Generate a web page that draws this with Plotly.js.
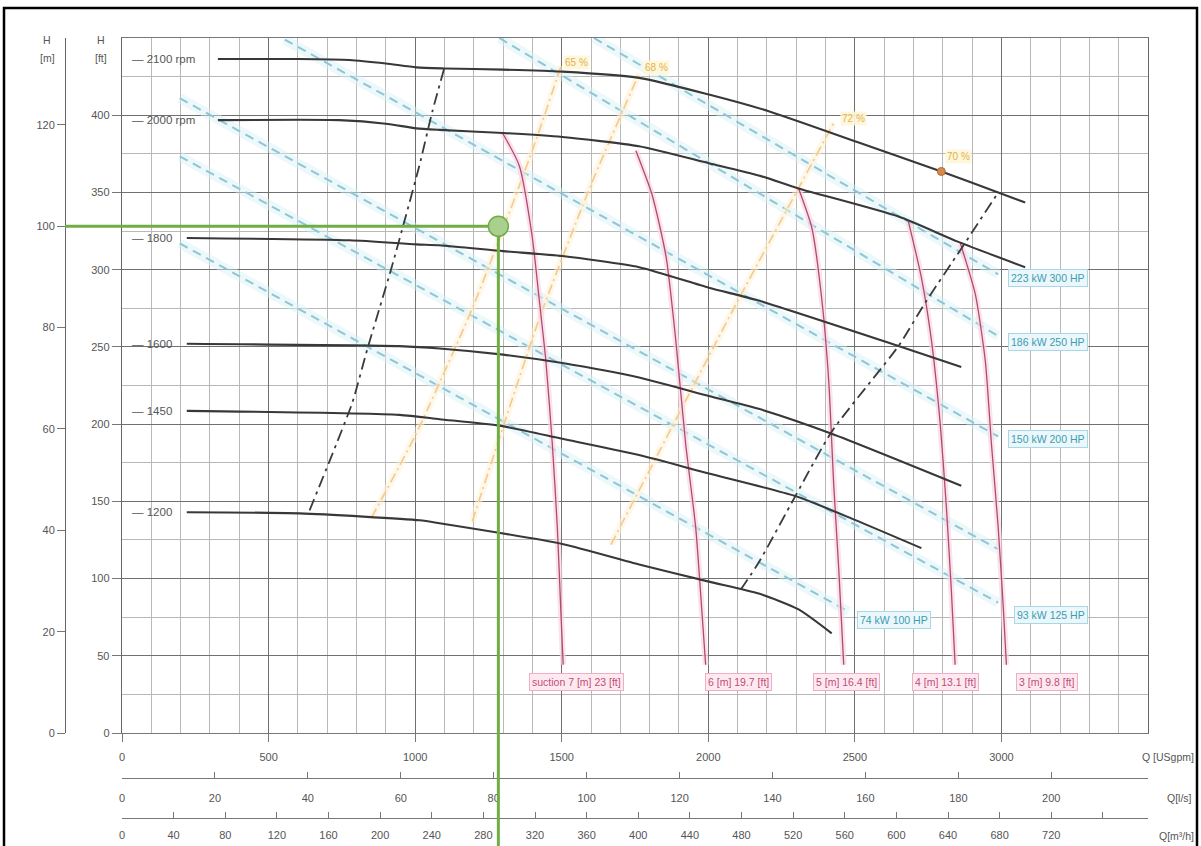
<!DOCTYPE html>
<html><head><meta charset="utf-8">
<script src="https://cdn.plot.ly/plotly-3.0.1.min.js"></script>
<style>html,body{margin:0;padding:0;background:#fff;}#chart{width:1201px;height:846px;}</style>
</head><body><div id="chart"></div>
<script>
// ---------- units ----------
const GPM_PER_LS = 15.8503, GPM_PER_M3H = 4.40287, FT_PER_M = 3.28084;

// ---------- speed curves (Q in USgpm, H in ft) ----------
const speedLabels = ['2100 rpm', '2000 rpm', '1800', '1600', '1450', '1200'];
const rpm2100_Q = [327, 600, 776, 900, 1004, 1100, 1300, 1502, 1764, 2002, 2206, 2513, 2795, 2989, 3081];
const rpm2100_H = [436.4, 436.4, 435.8, 433.5, 431, 430.3, 429.5, 428.2, 424.2, 413.4, 402.6, 382.3, 363.6, 350, 343.5];
const rpm2000_Q = [327, 742, 900, 1004, 1083, 1300, 1502, 1764, 2002, 2172, 2308, 2649, 2853, 3081];
const rpm2000_H = [396.8, 396.8, 394.5, 391.5, 390.5, 388.5, 385.9, 379.9, 368.9, 361, 352.6, 334.4, 318, 301.6];
const rpm1800_Q = [221, 776, 1004, 1083, 1300, 1502, 1764, 2002, 2172, 2649, 2863];
const rpm1800_H = [320.5, 319, 316.4, 315.8, 312, 308.8, 301.6, 288.3, 280, 250.6, 237];
const rpm1600_Q = [221, 946, 1083, 1300, 1502, 1764, 2002, 2172, 2421, 2863];
const rpm1600_H = [252, 250.5, 249, 245, 239.6, 230.2, 218.2, 209.9, 193.8, 160.1];
const rpm1450_Q = [221, 946, 1083, 1287, 1502, 1764, 2002, 2297, 2500, 2727];
const rpm1450_H = [208.6, 206, 203.2, 199, 190.5, 180, 168, 153.4, 138, 119.7];
const rpm1200_Q = [221, 606, 1015, 1083, 1502, 1764, 2002, 2172, 2308, 2421];
const rpm1200_H = [142.9, 142.2, 137.7, 135.8, 122.4, 109.1, 98, 90.3, 80, 64.5];

// ---------- NPSH curves ----------
const npshLabels = ['suction 7 [m] 23 [ft]', '6 [m] 19.7 [ft]', '5 [m] 16.4 [ft]', '4 [m] 13.1 [ft]', '3 [m] 9.8 [ft]'];
const npsh7_Q = [1298, 1355, 1399, 1423, 1446, 1468, 1485, 1497, 1505];
const npsh7_H = [388.5, 367.5, 321.8, 281.2, 240.9, 187, 133.1, 79.2, 44.2];
const npsh6_Q = [1753, 1808, 1856, 1889, 1923, 1957, 1978, 1991];
const npsh6_H = [377, 348.7, 308.4, 254.5, 187, 133.1, 79.2, 44.2];
const npsh5_Q = [2308, 2353, 2387, 2411, 2428, 2445, 2462];
const npsh5_H = [352.6, 327.3, 281.2, 227.5, 160.4, 106.5, 44.2];
const npsh4_Q = [2683, 2727, 2761, 2791, 2812, 2829, 2842];
const npsh4_H = [331, 294.8, 254.5, 200.6, 146.8, 92.9, 44.2];
const npsh3_Q = [2860, 2911, 2945, 2966, 2989, 3007, 3017];
const npsh3_H = [317, 284, 240.9, 187, 133.1, 79.2, 44.2];
const npshLabel_Q = [1549, 2104, 2472, 2809, 3156];
const npshLabel_H = [33, 33, 33, 33, 33];

// ---------- power lines ----------
const powerLabels = ['223 kW 300 HP', '186 kW 250 HP', '150 kW 200 HP', '', '93 kW 125 HP', '74 kW 100 HP'];
const p300_Q = [1610, 2989]; const p300_H = [450, 297];
const p250_Q = [1287, 2989]; const p250_H = [450, 257];
const p200_Q = [555, 2989];  const p200_H = [449, 192];
const p150_Q = [197, 2989];  const p150_H = [411, 119];
const p125_Q = [197, 2989];  const p125_H = [373.4, 84.4];
const p100_Q = [197, 2479];  const p100_H = [317, 78.6];
const powerLabel_Q = [3160, 3160, 3160, null, 3170, 2632];
const powerLabel_H = [294.8, 253.2, 190.3, null, 76.6, 73.4];

// ---------- efficiency lines ----------
const effLabels = ['65 %', '68 %', '72 %', '70 %'];
const eff1_Q = [851, 1000, 1200, 1400, 1498];
const eff1_H = [139.4, 192.5, 277.2, 377.3, 432];
const eff2_Q = [1195, 1423, 1600, 1764];
const eff2_H = [137, 268, 355, 427];
const eff3_Q = [1668, 2104, 2300, 2428];
const eff3_H = [122, 281, 350, 395];
const effLabel_Q = [1549, 1822, 2496, 2853];
const effLabel_H = [434.4, 431, 398, 373.4];
const effPoint_Q = [2795]; const effPoint_H = [363.6];

// ---------- operating-range lines (black dash-dot) ----------
const minLine_Q = [640, 731, 786.5, 837.6, 918, 969, 1014.6, 1059, 1100];
const minLine_H = [144.2, 187, 214.3, 249, 300.3, 335.3, 367.5, 402.6, 430.9];
const maxLine_Q = [2111, 2172, 2297, 2421, 2649, 2740, 2863, 2989];
const maxLine_H = [92.9, 110.4, 153.4, 195.1, 250.6, 278.6, 313.6, 350];

// ---------- duty point (green) ----------
const duty_Qls = [81]; const duty_Hm = [100];

// ---------- axis ticks ----------
const gpmTicks = [0, 500, 1000, 1500, 2000, 2500, 3000];
const lsTicks = [0, 20, 40, 60, 80, 100, 120, 140, 160, 180, 200];
const m3hTicks = [0, 40, 80, 120, 160, 200, 240, 280, 320, 360, 400, 440, 480, 520, 560, 600, 640, 680, 720, 760];
const m3hText = m3hTicks.map(v => v === 760 ? '' : String(v));
const ftTicks = [0, 50, 100, 150, 200, 250, 300, 350, 400];
const mTicks = [0, 20, 40, 60, 80, 100, 120];
const Q_MAX = 3500, H_MAX = 450;

const FONT = 'Liberation Sans Narrow, Liberation Sans, Arial, sans-serif';
const gpmMinor = []; for (let v = 100; v <= Q_MAX; v += 100) if (v % 500 !== 0 || v === 3500) gpmMinor.push(v);
const ftMinor = []; for (let v = 25; v <= H_MAX; v += 25) if (v % 50 !== 0 || v === 450) ftMinor.push(v);

const traces = [];
function line(x, y, color, width, dash, extra) {
  traces.push(Object.assign({type: 'scatter', mode: 'lines', x: x, y: y, hoverinfo: 'skip', showlegend: false,
    line: {color: color, width: width, dash: dash || 'solid', shape: 'spline', smoothing: 0.6}}, extra || {}));
}

// power lines
const powerSets = [[p300_Q, p300_H], [p250_Q, p250_H], [p200_Q, p200_H], [p150_Q, p150_H], [p125_Q, p125_H], [p100_Q, p100_H]];
powerSets.forEach(s => line(s[0], s[1], 'rgba(214,240,245,0.45)', 10));
powerSets.forEach(s => line(s[0], s[1], '#8ec6d6', 2, '9px,6px'));

// efficiency lines
const effSets = [[eff1_Q, eff1_H], [eff2_Q, eff2_H], [eff3_Q, eff3_H]];
effSets.forEach(s => line(s[0], s[1], 'rgba(255,242,212,0.5)', 7));
effSets.forEach(s => line(s[0], s[1], '#f3cb94', 1.7, '10px,4px,2px,4px'));

// NPSH curves
const npshSets = [[npsh7_Q, npsh7_H], [npsh6_Q, npsh6_H], [npsh5_Q, npsh5_H], [npsh4_Q, npsh4_H], [npsh3_Q, npsh3_H]];
npshSets.forEach(s => line(s[0], s[1], 'rgba(250,214,226,0.7)', 6));
npshSets.forEach(s => line(s[0], s[1], '#b04a72', 1.3));

// operating range lines
line(minLine_Q, minLine_H, '#3a3a3a', 1.8, '12px,5px,3px,5px');
line(maxLine_Q, maxLine_H, '#3a3a3a', 1.8, '12px,5px,3px,5px');

// speed curves
const speedSets = [[rpm2100_Q, rpm2100_H], [rpm2000_Q, rpm2000_H], [rpm1800_Q, rpm1800_H], [rpm1600_Q, rpm1600_H], [rpm1450_Q, rpm1450_H], [rpm1200_Q, rpm1200_H]];
speedSets.forEach(s => line(s[0], s[1], '#383838', 2.1));

// efficiency point
traces.push({type: 'scatter', mode: 'markers', x: effPoint_Q, y: effPoint_H, hoverinfo: 'skip', showlegend: false,
  marker: {size: 8, color: '#d98a4a', line: {color: '#b06a34', width: 1}}});

// dummy trace to activate the m3/h axis
traces.push({type: 'scatter', mode: 'markers', x: [0], y: [0], xaxis: 'x3', yaxis: 'y', marker: {opacity: 0}, hoverinfo: 'skip', showlegend: false});

// duty point (l/s vs m)
traces.push({type: 'scatter', mode: 'markers', x: duty_Qls, y: duty_Hm, xaxis: 'x2', yaxis: 'y2', cliponaxis: false,
  hoverinfo: 'skip', showlegend: false, marker: {size: 20, color: '#a9d08e', line: {color: '#70ad47', width: 1.5}}});

const XD0 = 122 / 1201, XD1 = 1148 / 1201, YD0 = (846 - 733) / 808;
const Y2POS = 65 / 1201;
const tickFont = {family: FONT, size: 11, color: '#555'};

const annotations = [];
speedSets.forEach((s, i) => annotations.push({x: 27, y: s[1][0], xref: 'x', yref: 'y', text: '\u2014 ' + speedLabels[i],
  showarrow: false, xanchor: 'left', yanchor: 'middle', font: {family: FONT, size: 11.5, color: '#555'}}));
npshLabels.forEach((t, i) => annotations.push({x: npshLabel_Q[i], y: npshLabel_H[i], xref: 'x', yref: 'y', text: t,
  showarrow: false, font: {family: FONT, size: 10.5, color: '#c44a7a'}, bgcolor: '#fdeaf0', bordercolor: '#f0adc4', borderwidth: 1, borderpad: 2}));
powerLabels.forEach((t, i) => { if (t) annotations.push({x: powerLabel_Q[i], y: powerLabel_H[i], xref: 'x', yref: 'y', text: t,
  showarrow: false, font: {family: FONT, size: 10.5, color: '#3a9db3'}, bgcolor: '#ebf7fa', bordercolor: '#a8d8e4', borderwidth: 1, borderpad: 2}); });
effLabels.forEach((t, i) => annotations.push({x: effLabel_Q[i], y: effLabel_H[i], xref: 'x', yref: 'y', text: t,
  showarrow: false, font: {family: FONT, size: 10, color: '#e3b24e'}, bgcolor: 'rgba(255,246,216,0.9)', borderpad: 1}));
const axTitle = (x, y, t, anchor) => annotations.push({x: x / 1201, y: (846 - y) / 808, xref: 'paper', yref: 'paper', text: t,
  showarrow: false, xanchor: anchor || 'center', yanchor: 'middle', font: {family: FONT, size: 10.5, color: '#555'}});
axTitle(47, 40, 'H'); axTitle(47, 58, '[m]');
axTitle(101, 40, 'H'); axTitle(101, 58, '[ft]');
axTitle(1196, 757, 'Q [USgpm]', 'right');
axTitle(1194, 798, 'Q[l/s]', 'right');
axTitle(1196, 836, 'Q[m\u00b3/h]', 'right');

// green duty lines (paper coordinates derived from the duty-point values)
const dutyQgpm = duty_Qls[0] * GPM_PER_LS, dutyHft = duty_Hm[0] * FT_PER_M;
const xP = q => XD0 + q / Q_MAX * (XD1 - XD0);
const yP = h => YD0 + h / H_MAX * (1 - YD0);
const rx = 10 / 1201, ry = 10 / 808;
const shapes = [
  {type: 'line', xref: 'paper', yref: 'paper', x0: Y2POS, x1: xP(dutyQgpm) - rx, y0: yP(dutyHft), y1: yP(dutyHft), line: {color: '#70ad47', width: 3}, layer: 'above'},
  {type: 'line', xref: 'paper', yref: 'paper', x0: xP(dutyQgpm), x1: xP(dutyQgpm), y0: yP(dutyHft) - ry, y1: -0.02, line: {color: '#70ad47', width: 3}, layer: 'above'},
  {type: 'rect', xref: 'paper', yref: 'paper', x0: 4 / 1201, x1: 1197 / 1201, y0: -0.05, y1: (846 - 8) / 808, line: {color: '#000', width: 2.5}, layer: 'above'}
];

const layout = {
  width: 1201, height: 846,
  margin: {l: 0, r: 0, t: 38, b: 0},
  paper_bgcolor: '#fff', plot_bgcolor: '#fff',
  showlegend: false,
  font: {family: FONT},
  xaxis: {domain: [XD0, XD1], range: [0, Q_MAX], tickvals: gpmTicks, ticks: 'outside', ticklen: 8, tickcolor: '#777',
    ticklabelstandoff: 6, tickfont: tickFont, showgrid: true, gridcolor: '#707070', gridwidth: 1, zeroline: false,
    showline: true, mirror: true, linecolor: '#777', linewidth: 1,
    minor: {tickvals: gpmMinor, showgrid: true, gridcolor: '#b8b8b8', gridwidth: 1, ticks: ''}, anchor: 'y', fixedrange: true},
  yaxis: {domain: [YD0, 1], range: [0, H_MAX], tickvals: ftTicks, ticks: 'outside', ticklen: 9, tickcolor: '#777',
    tickfont: tickFont, showgrid: true, gridcolor: '#707070', gridwidth: 1, zeroline: false,
    showline: true, mirror: true, linecolor: '#666', linewidth: 1.3,
    minor: {tickvals: ftMinor, showgrid: true, gridcolor: '#b8b8b8', gridwidth: 1, ticks: ''}, anchor: 'x', fixedrange: true},
  yaxis2: {overlaying: 'y', anchor: 'free', position: Y2POS, side: 'left', range: [0, H_MAX / FT_PER_M], tickvals: mTicks,
    ticks: 'outside', ticklen: 8, tickcolor: '#777', tickfont: tickFont, showgrid: false, zeroline: false,
    showline: true, linecolor: '#666', linewidth: 1.3, fixedrange: true},
  xaxis2: {overlaying: 'x', anchor: 'free', position: (846 - 778) / 808, side: 'bottom', range: [0, Q_MAX / GPM_PER_LS],
    tickvals: lsTicks, ticks: 'inside', ticklen: 6, tickcolor: '#777', ticklabelstandoff: 9, tickfont: tickFont,
    showgrid: false, zeroline: false, showline: true, linecolor: '#777', linewidth: 1.3, fixedrange: true},
  xaxis3: {overlaying: 'x', anchor: 'free', position: (846 - 818) / 808, side: 'bottom', range: [0, Q_MAX / GPM_PER_M3H],
    tickvals: m3hTicks, ticktext: m3hText, ticks: 'inside', ticklen: 6, tickcolor: '#777', ticklabelstandoff: 6, tickfont: tickFont,
    showgrid: false, zeroline: false, showline: true, linecolor: '#777', linewidth: 1.3, fixedrange: true},
  annotations: annotations,
  shapes: shapes
};

Plotly.newPlot('chart', traces, layout, {displayModeBar: false, staticPlot: true});
</script></body></html>
